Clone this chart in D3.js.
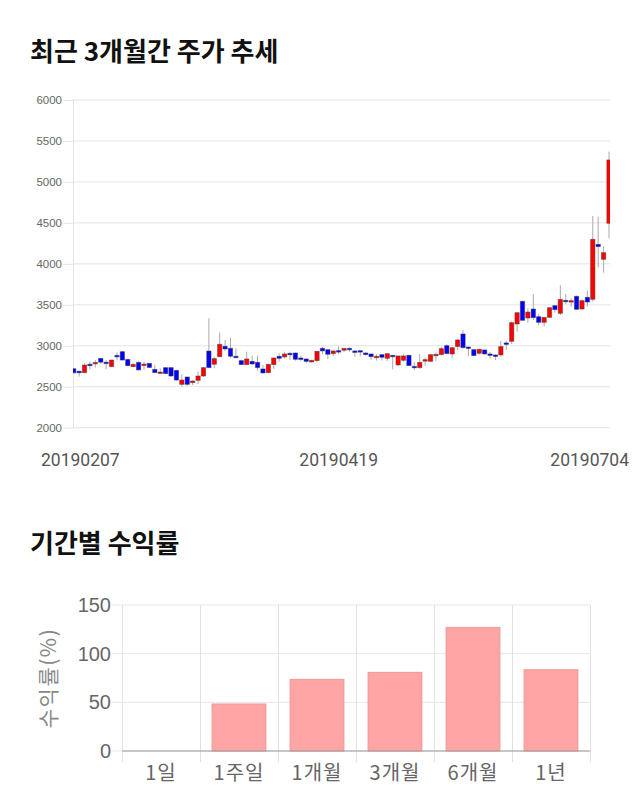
<!DOCTYPE html>
<html><head><meta charset="utf-8">
<script src="https://cdn.jsdelivr.net/npm/d3@7"></script>
<style>
body{margin:0;background:#fff;}
svg{display:block;}
</style></head>
<body><svg id="c" width="640" height="810"></svg>
<script>
// ---- candlestick data ----
const dates = ["20190207","20190211","20190212","20190213","20190214","20190215","20190218","20190219","20190220","20190221","20190222","20190225","20190226","20190227","20190228",
"20190304","20190305","20190306","20190307","20190308","20190311","20190312","20190313","20190314","20190315","20190318","20190319","20190320","20190321","20190322","20190325","20190326","20190327","20190328","20190329",
"20190401","20190402","20190403","20190404","20190405","20190408","20190409","20190410","20190411","20190412","20190415","20190416","20190417","20190418","20190419","20190422","20190423","20190424","20190425","20190426","20190429","20190430",
"20190502","20190503","20190507","20190508","20190509","20190510","20190513","20190514","20190515","20190516","20190517","20190520","20190521","20190522","20190523","20190524","20190527","20190528","20190529","20190530","20190531",
"20190603","20190604","20190605","20190607","20190610","20190611","20190612","20190613","20190614","20190617","20190618","20190619","20190620","20190621","20190624","20190625","20190626","20190627","20190628",
"20190701","20190703","20190704"];
const openV  = [2720,2690,2672,2775,2780,2846,2800,2745,2883,2928,2834,2745,2798,2762,2786,2712,2668,2733,2733,2700,2529,2619,2550,2578,2631,2936,2774,2867,2994,2969,2872,2819,2770,2810,2798,2717,2672,2770,2872,2863,2908,2912,2851,2839,2802,2819,2969,2953,2904,2941,2945,2969,2937,2941,2912,2900,2855,2892,2847,2884,2766,2823,2884,2749,2733,2819,2810,2884,2892,3002,2900,2990,3144,2985,2953,2908,2949,2900,2888,2888,3035,3054,3266,3543,3339,3449,3355,3286,3347,3490,3396,3555,3540,3604,3449,3592,3567,4238,4055,4495];
const highV  = [2730,2695,2786,2805,2826,2850,2826,2830,2920,2935,2840,2790,2810,2806,2790,2765,2725,2740,2740,2705,2652,2625,2580,2684,2740,3335,2867,3164,3071,3099,2969,2830,2928,2880,2880,2766,2778,2855,2908,2928,2928,2916,2880,2843,2827,2937,2985,2960,2945,2994,2973,2981,2949,2941,2920,2904,2896,2896,2908,2888,2880,2896,2888,2798,2896,2855,2896,2920,2985,3018,2985,3083,3193,2990,2957,2962,2953,2924,2893,3059,3059,3295,3410,3548,3457,3632,3388,3351,3470,3494,3738,3632,3579,3612,3567,3673,4585,4577,4218,5370];
const lowV   = [2660,2625,2665,2710,2735,2780,2712,2740,2822,2820,2750,2740,2700,2705,2730,2665,2655,2655,2620,2575,2500,2510,2520,2530,2620,2730,2725,2860,2937,2855,2855,2765,2766,2766,2701,2660,2665,2717,2806,2847,2827,2819,2815,2786,2794,2798,2896,2839,2876,2896,2920,2928,2867,2872,2880,2827,2819,2819,2815,2713,2753,2806,2753,2705,2717,2758,2806,2815,2880,2896,2855,2945,2969,2872,2876,2890,2892,2847,2827,2867,2949,3022,3172,3302,3282,3315,3250,3233,3340,3404,3376,3510,3478,3440,3437,3478,3540,3958,3893,4312];
const closeV = [2670,2670,2765,2760,2797,2800,2786,2826,2872,2826,2757,2773,2705,2777,2735,2672,2680,2660,2631,2582,2582,2529,2570,2631,2733,2733,2843,3018,2961,2872,2860,2770,2839,2778,2733,2668,2774,2851,2847,2900,2893,2835,2835,2810,2823,2933,2937,2896,2937,2930,2969,2958,2925,2930,2892,2867,2872,2859,2904,2867,2876,2876,2758,2738,2798,2831,2892,2896,2965,2904,2977,3071,2977,2975,2880,2957,2900,2889,2877,2990,3020,3282,3404,3311,3412,3343,3286,3347,3465,3441,3567,3540,3551,3445,3551,3534,4300,4210,4137,5268];
const priceTicks = [2000,2500,3000,3500,4000,4500,5000,5500,6000];
const dateLabels = ["20190207","20190419","20190704"];

// ---- returns data ----
const periods = ["1일","1주일","1개월","3개월","6개월","1년"];
const returns = [0,48.3,73.6,80.8,127,83.5];
const returnTicks = [0,50,100,150];

const svg = d3.select("#c");
const KR = "'Noto Sans CJK KR','Noto Sans',sans-serif";

// titles
svg.append("text").attr("x",30).attr("y",61).text("최근 3개월간 주가 추세")
  .attr("font-family",KR).attr("font-weight","bold").attr("font-size",26).attr("fill","#111");
svg.append("text").attr("x",30).attr("y",553).text("기간별 수익률")
  .attr("font-family",KR).attr("font-weight","bold").attr("font-size",26).attr("fill","#111");

// ---- candlestick chart ----
const L = 73, R = 610, T = 100, B = 427.7;
const y = d3.scaleLinear().domain([2000,6000]).range([B,T]);
const x = d3.scalePoint().domain(dates).range([73.7,609]);
const step = x.step();

const g = svg.append("g");
g.selectAll("line.grid").data(priceTicks).join("line")
  .attr("x1",L).attr("x2",R).attr("y1",d=>y(d)).attr("y2",d=>y(d))
  .attr("stroke","#e4e4e4").attr("stroke-width",1);
g.append("line").attr("x1",L+0.5).attr("x2",L+0.5).attr("y1",T).attr("y2",B).attr("stroke","#e4e4e4");
const yAxis = d3.axisLeft(y).tickValues(priceTicks).tickSize(10).tickPadding(1).tickFormat(d3.format("d"));
const ya = g.append("g").attr("transform",`translate(${L},0)`).call(yAxis);
ya.select(".domain").remove();
ya.selectAll(".tick line").attr("stroke","#e4e4e4");
ya.selectAll(".tick text").attr("fill","#666").attr("font-size",11.5).attr("font-family","'Liberation Sans',Arial,sans-serif");

svg.append("clipPath").attr("id","clipc").append("rect").attr("x",L).attr("y",0).attr("width",R-L).attr("height",B);
const cg = g.append("g").attr("clip-path","url(#clipc)");
const idx = d3.range(dates.length);
const bw = step*0.8;
cg.selectAll("line.wick").data(idx).join("line")
  .attr("x1",i=>x(dates[i])).attr("x2",i=>x(dates[i]))
  .attr("y1",i=>y(highV[i])).attr("y2",i=>y(lowV[i]))
  .attr("stroke","#aaa").attr("stroke-width",1);
cg.selectAll("rect.body").data(idx).join("rect")
  .attr("x",i=>x(dates[i])-bw/2).attr("width",bw)
  .attr("y",i=>y(Math.max(openV[i],closeV[i])))
  .attr("height",i=>Math.max(1.5,Math.abs(y(openV[i])-y(closeV[i]))))
  .attr("fill",i=>closeV[i]>=openV[i]?"#ff0000":"#0000ff")
  .attr("stroke","rgba(60,60,60,0.55)").attr("stroke-width",0.8);

const dl = g.selectAll("text.date").data(dateLabels).join("text")
  .attr("y",466).attr("text-anchor","middle").text(d=>d)
  .attr("font-family","Roboto,sans-serif").attr("font-size",17.5).attr("fill","#555");
dl.each(function(d){
  const w = this.getComputedTextLength();
  const cx = Math.max(41+w/2, Math.min(629-w/2, x(d)));
  d3.select(this).attr("x",cx);
});

// ---- returns bar chart ----
const bL = 122, bR = 590, bT = 605, bB = 751;
const by = d3.scaleLinear().domain([0,150]).range([bB,bT]);
const bx = d3.scaleBand().domain(periods).range([bL,bR]).padding(0);
const bg = svg.append("g");
bg.selectAll("line.hg").data(returnTicks).join("line")
  .attr("x1",bL-10).attr("x2",bR).attr("y1",d=>by(d)).attr("y2",d=>by(d))
  .attr("stroke","#e6e6e6");
const bounds = periods.map(p=>bx(p)).concat([bR]);
bg.selectAll("line.vg").data(bounds).join("line")
  .attr("x1",d=>d+0.5).attr("x2",d=>d+0.5).attr("y1",bT).attr("y2",bB+11)
  .attr("stroke","#e2e2e2");
const bwid = bx.bandwidth()*0.69;
bg.selectAll("rect.bar").data(periods).join("rect")
  .attr("x",p=>bx(p)+bx.bandwidth()/2-bwid/2).attr("width",bwid)
  .attr("y",(p,i)=>by(returns[i])).attr("height",(p,i)=>bB-by(returns[i]))
  .attr("fill",(p,i)=>returns[i]>0?"#ffa5a5":"none")
  .attr("stroke",(p,i)=>returns[i]>0?"#ee9a9a":"none").attr("stroke-width",1);
bg.append("line").attr("x1",bL).attr("x2",bR).attr("y1",bB).attr("y2",bB).attr("stroke","#999");
bg.selectAll("text.yl").data(returnTicks).join("text")
  .attr("x",111).attr("y",d=>by(d)).attr("dominant-baseline","central").attr("text-anchor","end")
  .text(d=>d).attr("font-family","'Liberation Sans',Arial,sans-serif").attr("font-size",20).attr("fill","#666");
bg.selectAll("text.xl").data(periods).join("text")
  .attr("x",p=>bx(p)+bx.bandwidth()/2).attr("y",771).attr("dominant-baseline","central").attr("text-anchor","middle")
  .text(p=>p).attr("font-family",KR).attr("font-size",20).attr("letter-spacing",1).attr("fill","#666");
svg.append("text").attr("transform","translate(47,678) rotate(-90)")
  .attr("text-anchor","middle").attr("dominant-baseline","central")
  .text("수익률(%)").attr("font-family",KR).attr("font-size",21).attr("letter-spacing",1.5).attr("fill","#888");
</script></body></html>
